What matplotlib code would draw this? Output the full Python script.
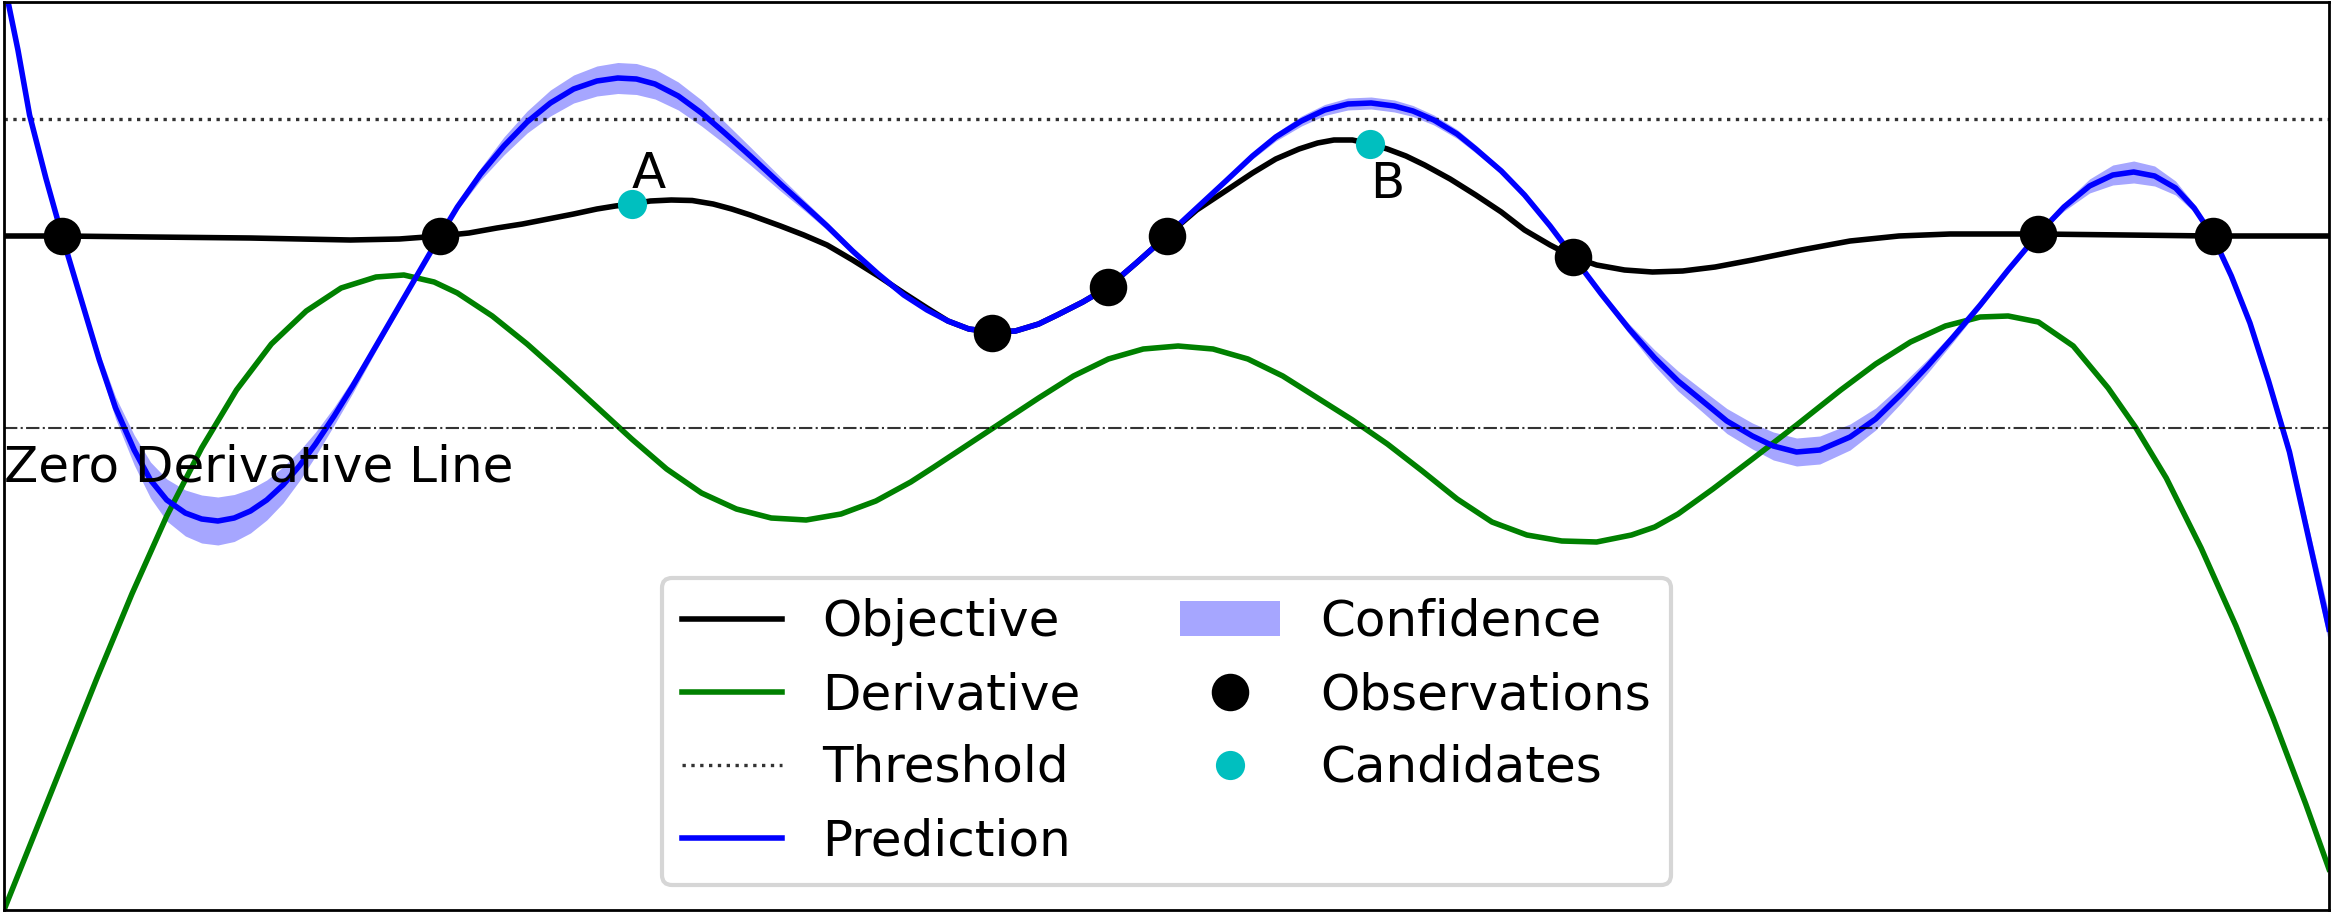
import matplotlib.pyplot as plt
import numpy as np

# objective (black)
obj_x = [0.00, 0.25, 0.63, 1.06, 1.49, 1.70, 1.875, 2.00, 2.12, 2.23, 2.34, 2.45, 2.55, 2.63,
         2.70, 2.78, 2.87, 2.96, 3.05, 3.13, 3.21, 3.34, 3.44, 3.54, 3.65, 3.76, 3.87, 3.97,
         4.06, 4.15, 4.25, 4.35, 4.45, 4.53, 4.64, 4.75, 4.87, 5.00, 5.13, 5.26, 5.37, 5.47,
         5.57, 5.65, 5.72, 5.80, 5.875, 5.95, 6.03, 6.11, 6.22, 6.33, 6.44, 6.54, 6.65, 6.75,
         6.85, 6.97, 7.09, 7.22, 7.36, 7.52, 7.73, 7.94, 8.15, 8.37, 8.75, 9.50, 10.0]
obj_y = [0.00, 0.00, -0.01, -0.02, -0.04, -0.03, 0.00, 0.03, 0.08, 0.12, 0.17, 0.22, 0.27, 0.30,
         0.32, 0.35, 0.36, 0.355, 0.32, 0.27, 0.21, 0.10, 0.01, -0.09, -0.24, -0.40, -0.57, -0.72,
         -0.85, -0.93, -0.96, -0.95, -0.88, -0.79, -0.66, -0.51, -0.27, 0.00, 0.26, 0.46, 0.63, 0.77,
         0.87, 0.93, 0.96, 0.96, 0.92, 0.87, 0.80, 0.71, 0.57, 0.41, 0.24, 0.06, -0.09, -0.21,
         -0.29, -0.34, -0.36, -0.35, -0.31, -0.24, -0.14, -0.05, 0.00, 0.02, 0.02, 0.00, 0.00]

# derivative (green)
der_x = [0.00, 0.20, 0.40, 0.55, 0.70, 0.85, 1.00, 1.15, 1.30, 1.45, 1.60, 1.72, 1.85, 1.95,
         2.10, 2.25, 2.40, 2.55, 2.70, 2.85, 3.00, 3.15, 3.30, 3.45, 3.60, 3.75, 3.90, 4.00,
         4.15, 4.30, 4.45, 4.60, 4.75, 4.90, 5.05, 5.20, 5.35, 5.50, 5.65, 5.80, 5.95, 6.10,
         6.25, 6.40, 6.55, 6.70, 6.85, 7.00, 7.10, 7.20, 7.35, 7.52, 7.71, 7.90, 8.05, 8.20,
         8.35, 8.50, 8.62, 8.75, 8.90, 9.05, 9.17, 9.30, 9.45, 9.60, 9.76, 9.90, 10.0]
der_y = [-6.74, -5.58, -4.42, -3.58, -2.80, -2.12, -1.54, -1.08, -0.75, -0.52, -0.41, -0.39, -0.46, -0.57,
         -0.80, -1.08, -1.39, -1.71, -2.03, -2.33, -2.57, -2.73, -2.82, -2.84, -2.78, -2.65, -2.46, -2.31,
         -2.08, -1.85, -1.62, -1.40, -1.23, -1.13, -1.10, -1.13, -1.23, -1.40, -1.62, -1.84, -2.08, -2.35,
         -2.63, -2.86, -2.99, -3.05, -3.06, -2.99, -2.91, -2.78, -2.53, -2.23, -1.89, -1.54, -1.28, -1.06,
         -0.90, -0.81, -0.80, -0.86, -1.10, -1.52, -1.92, -2.42, -3.12, -3.90, -4.82, -5.68, -6.33]

# prediction (blue) and confidence half width
pred_x = [0.00, 0.06, 0.11, 0.18, 0.25, 0.33, 0.41, 0.48, 0.56, 0.63, 0.70, 0.78, 0.85, 0.92,
          0.99, 1.06, 1.13, 1.20, 1.27, 1.34, 1.42, 1.50, 1.58, 1.66, 1.75, 1.875, 1.95, 2.05,
          2.15, 2.25, 2.35, 2.45, 2.55, 2.64, 2.72, 2.80, 2.90, 3.00, 3.10, 3.21, 3.34, 3.45,
          3.54, 3.65, 3.76, 3.87, 3.97, 4.06, 4.15, 4.25, 4.35, 4.45, 4.53, 4.64, 4.75, 4.87,
          5.00, 5.13, 5.26, 5.37, 5.47, 5.58, 5.68, 5.78, 5.88, 5.98, 6.06, 6.15, 6.25, 6.33,
          6.44, 6.54, 6.65, 6.75, 6.87, 6.99, 7.10, 7.20, 7.30, 7.41, 7.52, 7.61, 7.71, 7.81,
          7.94, 8.05, 8.16, 8.27, 8.38, 8.50, 8.62, 8.75, 8.86, 8.97, 9.07, 9.16, 9.25, 9.34,
          9.42, 9.50, 9.58, 9.66, 9.74, 9.83, 9.92, 10.0]
pred_y = [2.54, 1.86, 1.21, 0.58, 0.00, -0.62, -1.24, -1.72, -2.14, -2.44, -2.64, -2.77, -2.83, -2.85,
          -2.82, -2.75, -2.64, -2.49, -2.30, -2.08, -1.80, -1.50, -1.18, -0.86, -0.50, 0.00, 0.29, 0.62,
          0.90, 1.14, 1.33, 1.47, 1.55, 1.58, 1.57, 1.52, 1.40, 1.23, 1.03, 0.80, 0.52, 0.29,
          0.10, -0.15, -0.38, -0.59, -0.74, -0.85, -0.93, -0.96, -0.95, -0.88, -0.79, -0.66, -0.51, -0.27,
          0.00, 0.28, 0.56, 0.80, 0.99, 1.15, 1.26, 1.32, 1.33, 1.30, 1.25, 1.16, 1.02, 0.87,
          0.65, 0.41, 0.10, -0.21, -0.58, -0.93, -1.22, -1.45, -1.64, -1.85, -2.00, -2.10, -2.16, -2.14,
          -2.01, -1.83, -1.58, -1.31, -1.02, -0.69, -0.34, 0.02, 0.29, 0.50, 0.61, 0.64, 0.60, 0.48,
          0.28, 0.00, -0.40, -0.87, -1.45, -2.16, -3.10, -3.93]
conf = [0.08, 0.06, 0.04, 0.02, 0.00, 0.03, 0.07, 0.11, 0.15, 0.18, 0.21, 0.23, 0.24, 0.24,
        0.235, 0.22, 0.20, 0.18, 0.15, 0.12, 0.09, 0.07, 0.05, 0.035, 0.02, 0.00, 0.03, 0.06,
        0.09, 0.11, 0.13, 0.14, 0.15, 0.155, 0.155, 0.15, 0.14, 0.13, 0.11, 0.09, 0.07, 0.05,
        0.04, 0.03, 0.02, 0.01, 0.005, 0.00, 0.00, 0.00, 0.00, 0.00, 0.00, 0.00, 0.00, 0.00,
        0.00, 0.01, 0.02, 0.03, 0.04, 0.05, 0.055, 0.06, 0.06, 0.06, 0.055, 0.05, 0.045, 0.04,
        0.03, 0.02, 0.01, 0.00, 0.025, 0.05, 0.08, 0.10, 0.11, 0.125, 0.13, 0.14, 0.14, 0.14,
        0.13, 0.11, 0.09, 0.07, 0.05, 0.03, 0.015, 0.00, 0.04, 0.07, 0.10, 0.11, 0.10, 0.07,
        0.04, 0.00, 0.015, 0.04, 0.06, 0.08, 0.11, 0.15]

obs_x = [0.25, 1.875, 4.25, 4.75, 5.00, 6.75, 8.75, 9.50]
obs_y = [0.00, 0.00, -0.97, -0.51, 0.00, -0.21, 0.02, 0.00]

cand_x = [2.70, 5.875]
cand_y = [0.32, 0.92]
cand_labels = ['A', 'B']
cand_label_pos = [(2.774, 0.48), (5.948, 0.38)]

threshold = 1.167
zero_line = -1.917

fig = plt.figure(figsize=(11.665, 4.57), dpi=200)
ax = fig.add_axes([4 / 2333, 4 / 914, 2325 / 2333, 907.7 / 914])

pred_x = np.array(pred_x)
pred_y = np.array(pred_y)
conf = np.array(conf)

l_obj, = ax.plot(obj_x, obj_y, 'k-', lw=2, label='Objective')
l_der, = ax.plot(der_x, der_y, 'g-', lw=2, label='Derivative')
l_thr = ax.axhline(threshold, color='k', ls=':', lw=1.2, alpha=0.8, label='Threshold')
l_pred, = ax.plot(pred_x, pred_y, 'b-', lw=2, label='Prediction')
f_conf = ax.fill_between(pred_x, pred_y - conf, pred_y + conf, color='b', alpha=0.35,
                         lw=0, label='Confidence')
l_obs, = ax.plot(obs_x, obs_y, 'ko', ms=12.5, ls='none', label='Observations')
l_cand, = ax.plot(cand_x, cand_y, 'co', ms=9.5, ls='none', label='Candidates')
ax.axhline(zero_line, color='k', ls='-.', lw=0.75, alpha=0.8)

for lab, (tx, ty) in zip(cand_labels, cand_label_pos):
    ax.text(tx, ty, lab, fontsize=18, ha='center', va='baseline')
ax.text(0.0, -2.45, 'Zero Derivative Line', fontsize=18, ha='left', va='baseline')

ax.set_xlim(0, 10)
ax.set_ylim(-6.74, 2.337)
ax.set_xticks([])
ax.set_yticks([])
for s in ax.spines.values():
    s.set_linewidth(1.0)

handles = [l_obj, l_der, l_thr, l_pred, f_conf, l_obs, l_cand]
leg = ax.legend(handles, [h.get_label() for h in handles], loc='lower center', ncol=2, fontsize=18)
leg.get_frame().set_linewidth(1.5)

fig.savefig('out.png', dpi=200)
